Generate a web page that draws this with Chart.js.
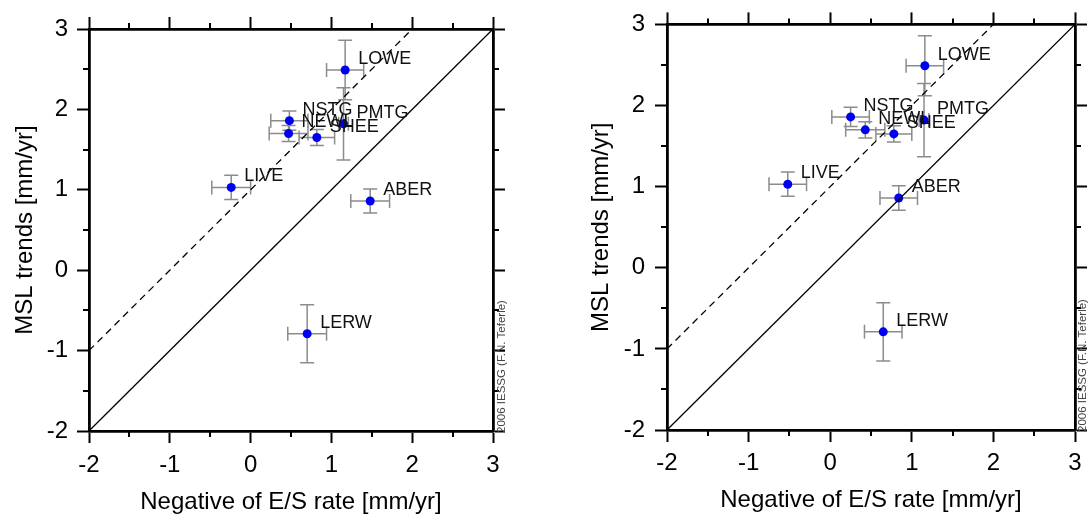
<!DOCTYPE html>
<html>
<head>
<meta charset="utf-8">
<script src="https://cdn.jsdelivr.net/npm/chart.js@4.4.1/dist/chart.umd.min.js"></script>
<style>
  html, body { margin: 0; padding: 0; background: #fff; }
  #wrap { position: relative; width: 1089px; height: 514px; }
  canvas { position: absolute; top: 0; }
</style>
</head>
<body>
<div id="wrap">
  <canvas id="panel-a" width="545" height="514" style="left:0"></canvas>
  <canvas id="panel-b" width="544" height="514" style="left:545px"></canvas>
</div>
<script>
const FONT = "'Liberation Sans', Arial, Helvetica, sans-serif";

// tide gauge stations (same order in every array below)
const stations = ["LOWE", "NSTG", "PMTG", "NEWL", "SHEE", "LIVE", "ABER", "LERW"];
const mslTrend = [2.49, 1.86, 1.82, 1.70, 1.65, 1.03, 0.86, -0.79];
const mslErr = [0.37, 0.12, 0.45, 0.10, 0.10, 0.15, 0.15, 0.36];

// negative of E/S rate, left panel
const esRateA = [1.17, 0.48, 1.15, 0.47, 0.82, -0.24, 1.48, 0.70];
const esErrA = [0.23, 0.23, 0.06, 0.24, 0.22, 0.24, 0.24, 0.24];
// negative of E/S rate, right panel
const esRateB = [1.16, 0.25, 1.15, 0.43, 0.78, -0.52, 0.84, 0.65];
const esErrB = [0.23, 0.23, 0.06, 0.24, 0.22, 0.23, 0.23, 0.23];

// reference lines: 1:1 and 1:1 shifted by +1 mm/yr
const solidX = [-2, 3];
const solidY = [-2, 3];
const dashX = [-2, 2];
const dashY = [-1, 3];

const axisMin = -2;
const axisMax = 3;
const majorTicks = [-2, -1, 0, 1, 2, 3];
const minorTicks = [-1.5, -0.5, 0.5, 1.5, 2.5];

const xTitle = "Negative of E/S rate [mm/yr]";
const yTitle = "MSL trends [mm/yr]";
const stamp = "2006 IESSG (F.N. Teferle)";

Chart.defaults.font.family = FONT;

/** one axis (major ticks through Chart.js, minor ones in the plugin) */
function axisOpts(pos, size, opts = {}) {
    const horizontal = pos === "top" || pos === "bottom";
    return {
        type: "linear",
        axis: horizontal ? "x" : "y",
        position: pos,
        min: axisMin,
        max: axisMax,
        afterFit: (s) => {
            if (horizontal) s.height = size;
            else s.width = size;
        },
        afterBuildTicks: (s) => {
            s.ticks = majorTicks.map((v) => ({ value: v }));
        },
        grid: {
            display: true,
            drawOnChartArea: false,
            drawTicks: true,
            tickLength: 12,
            tickWidth: 2,
            tickColor: "#000",
        },
        border: { display: true, width: 2.8, color: "#000" },
        ticks: {
            display: !!opts.labels,
            padding: opts.tickPad || 9,
            color: "#000",
            font: { size: 24 },
            callback: (v) => String(v),
        },
        title: {
            display: !!opts.title,
            text: opts.title || "",
            color: "#000",
            font: { size: 24, lineHeight: 1 },
            padding: opts.titlePad || 0,
        },
    };
}

function makeDecor(xs, xErr, stampGap) {
    return {
        id: "decor",
        beforeDatasetDraw(chart, args) {
            if (args.index !== 2) return;
            const { ctx } = chart;
            const x = chart.scales.x;
            const y = chart.scales.y;
            const cap = 7;
            ctx.save();
            ctx.strokeStyle = "#8c8c8c";
            ctx.lineWidth = 1.5;
            xs.forEach((xv, i) => {
                const px = x.getPixelForValue(xv);
                const py = y.getPixelForValue(mslTrend[i]);
                const x0 = x.getPixelForValue(xv - xErr[i]);
                const x1 = x.getPixelForValue(xv + xErr[i]);
                const y0 = y.getPixelForValue(mslTrend[i] - mslErr[i]);
                const y1 = y.getPixelForValue(mslTrend[i] + mslErr[i]);
                ctx.beginPath();
                ctx.moveTo(x0, py); ctx.lineTo(x1, py);
                ctx.moveTo(x0, py - cap); ctx.lineTo(x0, py + cap);
                ctx.moveTo(x1, py - cap); ctx.lineTo(x1, py + cap);
                ctx.moveTo(px, y0); ctx.lineTo(px, y1);
                ctx.moveTo(px - cap, y0); ctx.lineTo(px + cap, y0);
                ctx.moveTo(px - cap, y1); ctx.lineTo(px + cap, y1);
                ctx.stroke();
            });
            ctx.restore();
        },
        afterDatasetsDraw(chart) {
            const { ctx } = chart;
            const x = chart.scales.x;
            const y = chart.scales.y;
            ctx.save();
            ctx.fillStyle = "#111";
            ctx.font = "18px " + FONT;
            ctx.textAlign = "left";
            ctx.textBaseline = "middle";
            xs.forEach((xv, i) => {
                ctx.fillText(
                    stations[i],
                    x.getPixelForValue(xv) + 13,
                    y.getPixelForValue(mslTrend[i]) - 11
                );
            });
            ctx.restore();
        },
        afterDraw(chart) {
            const { ctx, chartArea: a } = chart;
            const x = chart.scales.x;
            const y = chart.scales.y;
            // minor ticks, outward on all four sides
            ctx.save();
            ctx.strokeStyle = "#000";
            ctx.lineWidth = 2;
            ctx.beginPath();
            minorTicks.forEach((v) => {
                const px = Math.round(x.getPixelForValue(v));
                const py = Math.round(y.getPixelForValue(v));
                ctx.moveTo(px, a.bottom); ctx.lineTo(px, a.bottom + 6);
                ctx.moveTo(px, a.top); ctx.lineTo(px, a.top - 6);
                ctx.moveTo(a.left, py); ctx.lineTo(a.left - 6, py);
                ctx.moveTo(a.right, py); ctx.lineTo(a.right + 6, py);
            });
            ctx.stroke();
            // credit stamp
            ctx.translate(a.right + stampGap, a.bottom + 2);
            ctx.rotate(-Math.PI / 2);
            ctx.fillStyle = "#444";
            ctx.font = "11.5px " + FONT;
            ctx.textAlign = "left";
            ctx.textBaseline = "middle";
            ctx.fillText(stamp, 0, 0);
            ctx.restore();
        },
    };
}

function makePanel(id, xs, xErr, g) {
    const points = xs.map((v, i) => ({ x: v, y: mslTrend[i] }));
    const solid = solidX.map((v, i) => ({ x: v, y: solidY[i] }));
    const dashed = dashX.map((v, i) => ({ x: v, y: dashY[i] }));
    return new Chart(document.getElementById(id), {
        type: "scatter",
        data: {
            datasets: [
                {
                    type: "line",
                    data: solid,
                    borderColor: "#000",
                    borderWidth: 1.3,
                    pointRadius: 0,
                    fill: false,
                },
                {
                    type: "line",
                    data: dashed,
                    borderColor: "#000",
                    borderWidth: 1.3,
                    borderDash: [7, 5],
                    pointRadius: 0,
                    fill: false,
                },
                {
                    data: points,
                    pointRadius: 4.5,
                    backgroundColor: "#0000f0",
                    borderWidth: 0,
                },
            ],
        },
        options: {
            responsive: false,
            animation: false,
            devicePixelRatio: 1,
            layout: { padding: 0 },
            plugins: { legend: { display: false }, tooltip: { enabled: false } },
            scales: {
                x: axisOpts("bottom", g.bottom, {
                    labels: true,
                    tickPad: g.xTickPad,
                    title: xTitle,
                    titlePad: { top: 0, bottom: g.xTitlePad },
                }),
                x2: axisOpts("top", g.top),
                y: axisOpts("left", g.left, {
                    labels: true,
                    tickPad: g.yTickPad,
                    title: yTitle,
                    titlePad: { top: g.yTitlePad, bottom: 0 },
                }),
                y2: axisOpts("right", g.right),
            },
        },
        plugins: [makeDecor(xs, xErr, g.stampGap)],
    });
}

makePanel("panel-a", esRateA, esErrA, {
    left: 89, right: 52, top: 29, bottom: 83,
    xTickPad: 8, yTickPad: 9, xTitlePad: 0, yTitlePad: 13, stampGap: 9,
});
makePanel("panel-b", esRateB, esErrB, {
    left: 122, right: 14, top: 22, bottom: 84,
    xTickPad: 7, yTickPad: 10, xTitlePad: 2, yTitlePad: 44, stampGap: 8,
});
</script>
</body>
</html>
